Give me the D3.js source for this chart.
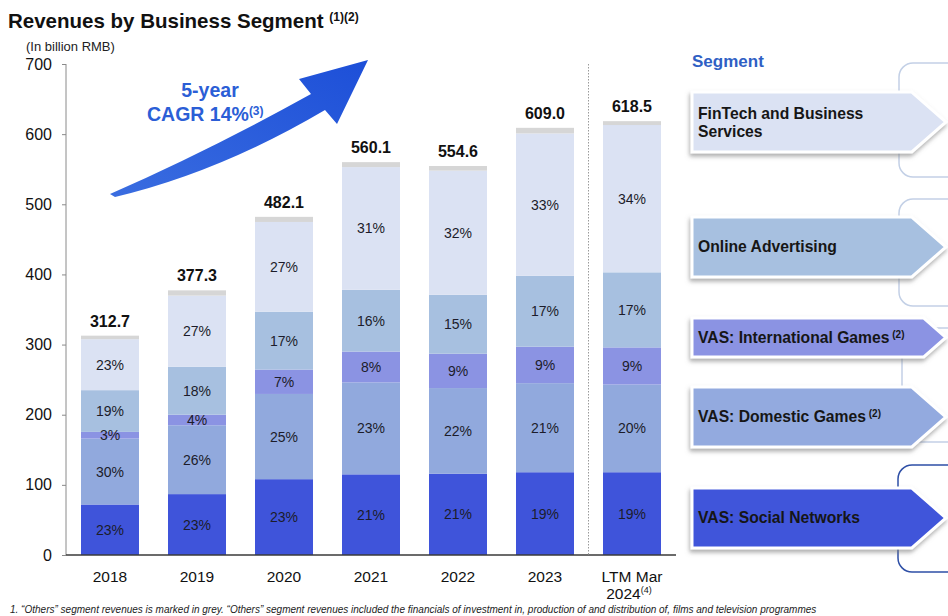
<!DOCTYPE html>
<html>
<head>
<meta charset="utf-8">
<script src="https://cdn.jsdelivr.net/npm/d3@7/dist/d3.min.js"></script>
<style>
  body { margin: 0; background: #fff; }
  svg { font-family: "Liberation Sans", Arial, sans-serif; }
</style>
</head>
<body>
<svg id="chart" width="948" height="616"></svg>
<script>
// periods on the x axis
const periods = ['2018', '2019', '2020', '2021', '2022', '2023', 'LTM'];
const totals = [312.7, 377.3, 482.1, 560.1, 554.6, 609.0, 618.5];

// segment revenues, billion RMB (bottom to top)
const socialNetworks = [72.0, 86.8, 108.1, 115.0, 116.0, 118.0, 118.0];
const domesticGames = [94.0, 98.1, 121.5, 131.0, 122.0, 127.0, 125.0];
const intlGames = [9.5, 15.1, 34.8, 44.0, 49.0, 52.0, 53.0];
const onlineAds = [59.5, 68.4, 82.3, 88.0, 84.0, 101.0, 107.0];
const fintech = [72.7, 101.4, 128.1, 175.0, 177.0, 203.0, 210.0];
const others = [5.0, 7.5, 7.3, 7.1, 6.6, 8.0, 5.5];

// share labels printed in each segment
const socialPct = ['23%', '23%', '23%', '21%', '21%', '19%', '19%'];
const domesticPct = ['30%', '26%', '25%', '23%', '22%', '21%', '20%'];
const intlPct = ['3%', '4%', '7%', '8%', '9%', '9%', '9%'];
const adsPct = ['19%', '18%', '17%', '16%', '15%', '17%', '17%'];
const fintechPct = ['23%', '27%', '27%', '31%', '32%', '33%', '34%'];

const yTicks = [0, 100, 200, 300, 400, 500, 600, 700];

const segments = [
  {key: 'social', values: socialNetworks, pct: socialPct, color: '#3f54da'},
  {key: 'domestic', values: domesticGames, pct: domesticPct, color: '#91a9dd'},
  {key: 'intl', values: intlGames, pct: intlPct, color: '#8b93e3'},
  {key: 'ads', values: onlineAds, pct: adsPct, color: '#a7c0e0'},
  {key: 'fintech', values: fintech, pct: fintechPct, color: '#dbe2f3'},
  {key: 'others', values: others, pct: null, color: '#d6d6d6'}
];

const legend = [
  {label: 'FinTech and Business', label2: 'Services', top: 92, bottom: 152, color: '#dbe2f3'},
  {label: 'Online Advertising', top: 217, bottom: 277, color: '#a7c0e0'},
  {label: 'VAS: International Games', sup: '(2)', top: 318, bottom: 357, color: '#8b93e3'},
  {label: 'VAS: Domestic Games', sup: '(2)', top: 387, bottom: 447, color: '#93aadf'},
  {label: 'VAS: Social Networks', top: 488, bottom: 548, color: '#3f54da'}
];

const brackets = [
  {top: 63, bottom: 177, x: 899, color: '#c3d0e6'},
  {top: 199, bottom: 306, x: 899, color: '#c3d0e6'},
  {top: 328, bottom: 442, x: 902, color: '#c3d0e6'},
  {top: 465, bottom: 572, x: 898, color: '#2e4fa6'}
];

const svg = d3.select('#chart');

const x = d3.scaleBand()
  .domain(periods)
  .range([66.5, 675.5])
  .paddingInner(1 / 3)
  .paddingOuter(1 / 6);

const y = d3.scaleLinear().domain([0, 700]).range([555, 64]);

const defs = svg.append('defs');
const grad = defs.append('linearGradient')
  .attr('id', 'arrowGrad')
  .attr('x1', '0%').attr('y1', '100%')
  .attr('x2', '100%').attr('y2', '0%');
grad.append('stop').attr('offset', '0%').attr('stop-color', '#3a6de0');
grad.append('stop').attr('offset', '100%').attr('stop-color', '#1d4fd8');

defs.append('filter')
  .attr('id', 'shadow')
  .attr('x', '-10%').attr('y', '-20%')
  .attr('width', '130%').attr('height', '150%')
  .append('feDropShadow')
    .attr('dx', -1).attr('dy', 3)
    .attr('stdDeviation', 2)
    .attr('flood-color', '#777')
    .attr('flood-opacity', 0.6);

// title
const title = svg.append('text')
  .attr('x', 8).attr('y', 28)
  .attr('font-size', 20.5).attr('font-weight', 'bold').attr('fill', '#111');
title.append('tspan').text('Revenues by Business Segment ');
title.append('tspan').attr('font-size', 12).attr('dy', -7).text('(1)(2)');

svg.append('text')
  .attr('x', 26).attr('y', 51)
  .attr('font-size', 13).attr('fill', '#222')
  .text('(In billion RMB)');

// y axis
const yAxis = svg.append('g')
  .attr('transform', 'translate(66,0)')
  .call(d3.axisLeft(y).tickValues(yTicks).tickSize(4).tickPadding(10));
yAxis.select('.domain').attr('stroke', '#8a8a8a').attr('d', 'M0,' + y(700) + 'V' + y(0));
yAxis.selectAll('.tick line').attr('stroke', '#8a8a8a');
yAxis.selectAll('.tick text')
  .attr('font-size', 16).attr('fill', '#111')
  .attr('font-family', '"Liberation Sans", Arial, sans-serif');

// stacked bars
const stacked = periods.map((p, i) => {
  let base = 0;
  return segments.map(s => {
    const v = s.values[i];
    const d = {period: p, y0: base, y1: base + v, seg: s, pct: s.pct ? s.pct[i] : null};
    base += v;
    return d;
  });
});

const barG = svg.append('g');
stacked.forEach(col => {
  barG.selectAll(null)
    .data(col)
    .enter().append('rect')
      .attr('x', d => x(d.period))
      .attr('width', x.bandwidth())
      .attr('y', d => y(d.y1))
      .attr('height', d => y(d.y0) - y(d.y1))
      .attr('fill', d => d.seg.color);

  barG.selectAll(null)
    .data(col.filter(d => d.pct))
    .enter().append('text')
      .attr('x', d => x(d.period) + x.bandwidth() / 2)
      .attr('y', d => (y(d.y0) + y(d.y1)) / 2 + 5)
      .attr('text-anchor', 'middle')
      .attr('font-size', 14)
      .attr('fill', '#1c1c2a')
      .text(d => d.pct);
});

// totals
svg.append('g').selectAll('text')
  .data(periods)
  .enter().append('text')
    .attr('x', p => x(p) + x.bandwidth() / 2)
    .attr('y', (p, i) => y(totals[i]) - 9)
    .attr('text-anchor', 'middle')
    .attr('font-size', 16).attr('font-weight', 'bold').attr('fill', '#111')
    .text((p, i) => totals[i].toFixed(1));

// x axis baseline
svg.append('line')
  .attr('x1', 66).attr('x2', 676)
  .attr('y1', y(0)).attr('y2', y(0))
  .attr('stroke', '#3a3a3a').attr('stroke-width', 1.6);

// period labels
const xl = svg.append('g').selectAll('text')
  .data(periods)
  .enter().append('text')
    .attr('x', p => x(p) + x.bandwidth() / 2)
    .attr('y', 582)
    .attr('text-anchor', 'middle')
    .attr('font-size', 15.5).attr('fill', '#111');
xl.filter(p => p !== 'LTM').text(p => p);
const ltm = xl.filter(p => p === 'LTM');
ltm.append('tspan').text('LTM Mar');
ltm.append('tspan').attr('x', x('LTM') + x.bandwidth() / 2 - 3).attr('dy', 17).text('2024');
ltm.append('tspan').attr('font-size', 9).attr('dy', -6).text('(4)');

// dotted separator before LTM
const sepX = (x('2023') + x.bandwidth() + x('LTM')) / 2;
svg.append('line')
  .attr('x1', sepX).attr('x2', sepX)
  .attr('y1', 64).attr('y2', y(0))
  .attr('stroke', '#9a9a9a').attr('stroke-width', 1)
  .attr('stroke-dasharray', '1.5,1.5');

// CAGR arrow
svg.append('path')
  .attr('d', 'M110,194 Q210,150 311,94 L299,79 L368,60 L337,124 L325,110 Q220,172 115,197 Z')
  .attr('fill', 'url(#arrowGrad)');

svg.append('text')
  .attr('x', 210).attr('y', 97)
  .attr('text-anchor', 'middle')
  .attr('font-size', 19.5).attr('font-weight', 'bold').attr('fill', '#2b5ed6')
  .text('5-year');
const cagr = svg.append('text')
  .attr('x', 147).attr('y', 121)
  .attr('font-size', 19.5).attr('font-weight', 'bold').attr('fill', '#2b5ed6');
cagr.append('tspan').text('CAGR 14%');
cagr.append('tspan').attr('font-size', 12).attr('dy', -6).text('(3)');

// right side: segment legend
svg.append('text')
  .attr('x', 692).attr('y', 67)
  .attr('font-size', 17).attr('font-weight', 'bold').attr('fill', '#2f5fc4')
  .text('Segment');

svg.append('g').selectAll('path')
  .data(brackets)
  .enter().append('path')
    .attr('d', b => {
      const r = 14;
      return 'M950,' + b.top + 'H' + (b.x + r) +
        'A' + r + ',' + r + ' 0 0 0 ' + b.x + ',' + (b.top + r) +
        'V' + (b.bottom - r) +
        'A' + r + ',' + r + ' 0 0 0 ' + (b.x + r) + ',' + b.bottom + 'H950';
    })
    .attr('fill', 'none')
    .attr('stroke', b => b.color)
    .attr('stroke-width', 1.5);

const lg = svg.append('g').selectAll('g')
  .data(legend)
  .enter().append('g');

lg.append('path')
  .attr('d', d => {
    const h = d.bottom - d.top;
    const depth = h * 0.57;
    const tip = 946;
    return 'M692,' + d.top + 'H' + (tip - depth) + 'L' + tip + ',' + (d.top + h / 2) +
      'L' + (tip - depth) + ',' + d.bottom + 'H692Z';
  })
  .attr('fill', d => d.color)
  .attr('stroke', '#fff').attr('stroke-width', 3)
  .attr('filter', 'url(#shadow)');

lg.each(function(d) {
  const g = d3.select(this);
  const mid = (d.top + d.bottom) / 2;
  const t = g.append('text')
    .attr('x', 698)
    .attr('y', d.label2 ? mid - 3 : mid + 5)
    .attr('font-size', 15.7).attr('font-weight', 'bold').attr('fill', '#161616');
  t.append('tspan').text(d.label);
  if (d.sup) t.append('tspan').attr('font-size', 10).attr('dy', -5).text(' ' + d.sup);
  if (d.label2) {
    g.append('text')
      .attr('x', 698).attr('y', mid + 15)
      .attr('font-size', 15.7).attr('font-weight', 'bold').attr('fill', '#161616')
      .text(d.label2);
  }
});

// footnote
svg.append('text')
  .attr('x', 10).attr('y', 613)
  .attr('font-size', 10).attr('font-style', 'italic').attr('fill', '#222')
  .text('1.      \u201cOthers\u201d segment revenues is marked in grey. \u201cOthers\u201d segment revenues included the financials of investment in, production of and distribution of, films and television programmes');
</script>
</body>
</html>
